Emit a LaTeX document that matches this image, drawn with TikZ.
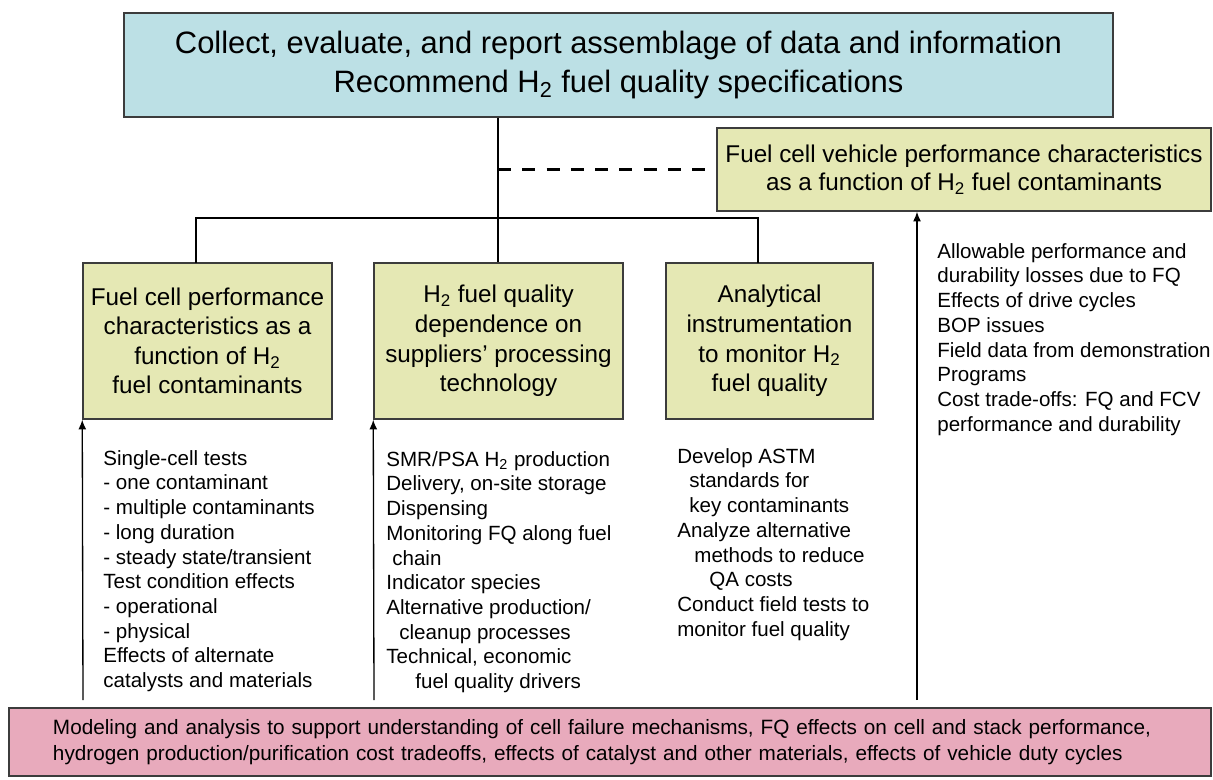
\documentclass[tikz,border=0pt]{standalone}
\usepackage{fontspec}
\setmainfont{Liberation Sans}
\usetikzlibrary{arrows.meta}
\definecolor{topblue}{RGB}{188,224,229}
\definecolor{boxgreen}{RGB}{229,232,180}
\definecolor{modelpink}{RGB}{232,170,188}
\definecolor{edgegray}{RGB}{60,60,60}
\def\Htwo{H\textsubscript{2}}
\tikzset{
	taskbox/.style={draw=edgegray, line width=0.85pt, align=center, inner sep=0pt},
	tree/.style={line width=1.5pt},
	feed/.style={line width=0.75pt, -{Latex[length=5.5pt,width=4.5pt]}},
	listtext/.style={anchor=north west, align=left, inner sep=0pt, font=\fontsize{11.7}{14.05}\selectfont},
}

\begin{document}
\begin{tikzpicture}
			%%%%% START %%%%%
			\useasboundingbox (0,0) rectangle (24.26,15.58);
			
			\node[taskbox, fill=topblue, minimum width=19.78cm, minimum height=2.08cm, font=\fontsize{17.6}{22.2}\selectfont] (top) at (12.37,14.28) {Collect, evaluate, and report assemblage of data and information\\Recommend \Htwo{} fuel quality specifications};
			
			\node[taskbox, fill=boxgreen, minimum width=9.88cm, minimum height=1.66cm, font=\fontsize{13.8}{15.9}\selectfont] (fcv) at (19.28,12.19) {Fuel cell vehicle performance characteristics\\as a function of \Htwo{} fuel contaminants};
			
			\node[taskbox, fill=boxgreen, minimum width=4.98cm, minimum height=3.12cm, font=\fontsize{13.8}{16.8}\selectfont] (fc) at (4.15,8.76) {Fuel cell performance\\characteristics as a\\function of \Htwo\\fuel contaminants};
			\node[taskbox, fill=boxgreen, minimum width=4.98cm, minimum height=3.12cm, font=\fontsize{13.8}{16.8}\selectfont] (fq) at (9.97,8.76) {\Htwo{} fuel quality\\dependence on\\suppliers' processing\\technology};
			\node[taskbox, fill=boxgreen, minimum width=4.14cm, minimum height=3.12cm, font=\fontsize{13.8}{16.8}\selectfont] (ai) at (15.39,8.76) {Analytical\\instrumentation\\to monitor \Htwo\\fuel quality};
			
			\node[taskbox, fill=modelpink, minimum width=24.04cm, minimum height=1.36cm, text width=22.28cm, align=left, inner xsep=0.88cm, font=\fontsize{11.8}{14.8}\selectfont] (model) at (12.2,0.74) {Modeling and analysis to support understanding of cell failure mechanisms, FQ effects on cell and stack performance,\\hydrogen production/purification cost tradeoffs, effects of catalyst and other materials, effects of vehicle duty cycles};
			
			% tree below the top box
			\coordinate (hub) at (9.96,11.22);
			\coordinate (fcTop) at (3.92,10.32);
			\coordinate (aiTop) at (15.16,10.32);
			\draw[tree] (top.south -| hub) -- (hub |- fq.north);
			\draw[tree] (fcTop) |- (hub) -| (aiTop);
			\draw[line width=1.8pt, dash pattern=on 7.4pt off 6.4pt] (fcv.west -| hub) -- (fcv.west);
			
			% inputs from below
			\coordinate (fcIn) at (1.66,1.58);
			\coordinate (fqIn) at (7.48,1.58);
			\coordinate (fcvIn) at (18.34,1.58);
			\draw[feed] (fcIn) -- (fc.south west);
			\draw[feed] (fqIn) -- (fq.south west);
			\draw[feed] (fcvIn) -- (fcvIn |- fcv.south);
			
			\node[listtext] (fcList) at (2.06,6.58) {Single-cell tests\\- one contaminant\\- multiple contaminants\\- long duration\\- steady state/transient\\Test condition effects\\- operational\\- physical\\Effects of alternate\\catalysts and materials};
			\node[listtext] (fqList) at (7.72,6.56) {SMR/PSA \Htwo{} production\\Delivery, on-site storage\\Dispensing\\Monitoring FQ along fuel\\\hspace{3.4pt}chain\\Indicator species\\Alternative production/\\\hspace{7.4pt}cleanup processes\\Technical, economic\\\hspace{16.5pt}fuel quality drivers};
			\node[listtext] (aiList) at (13.54,6.62) {Develop ASTM\\\hspace{6.8pt}standards for\\\hspace{6.8pt}key contaminants\\Analyze alternative\\\hspace{9.7pt}methods to reduce\\\hspace{18.2pt}QA costs\\Conduct field tests to\\monitor fuel quality};
			\node[listtext] (fcvList) at (18.74,10.72) {Allowable performance and\\durability losses due to FQ\\Effects of drive cycles\\BOP issues\\Field data from demonstration\\Programs\\Cost trade-offs: FQ and FCV\\performance and durability};
			
			%%%%% END %%%%%
\end{tikzpicture}
\end{document}
